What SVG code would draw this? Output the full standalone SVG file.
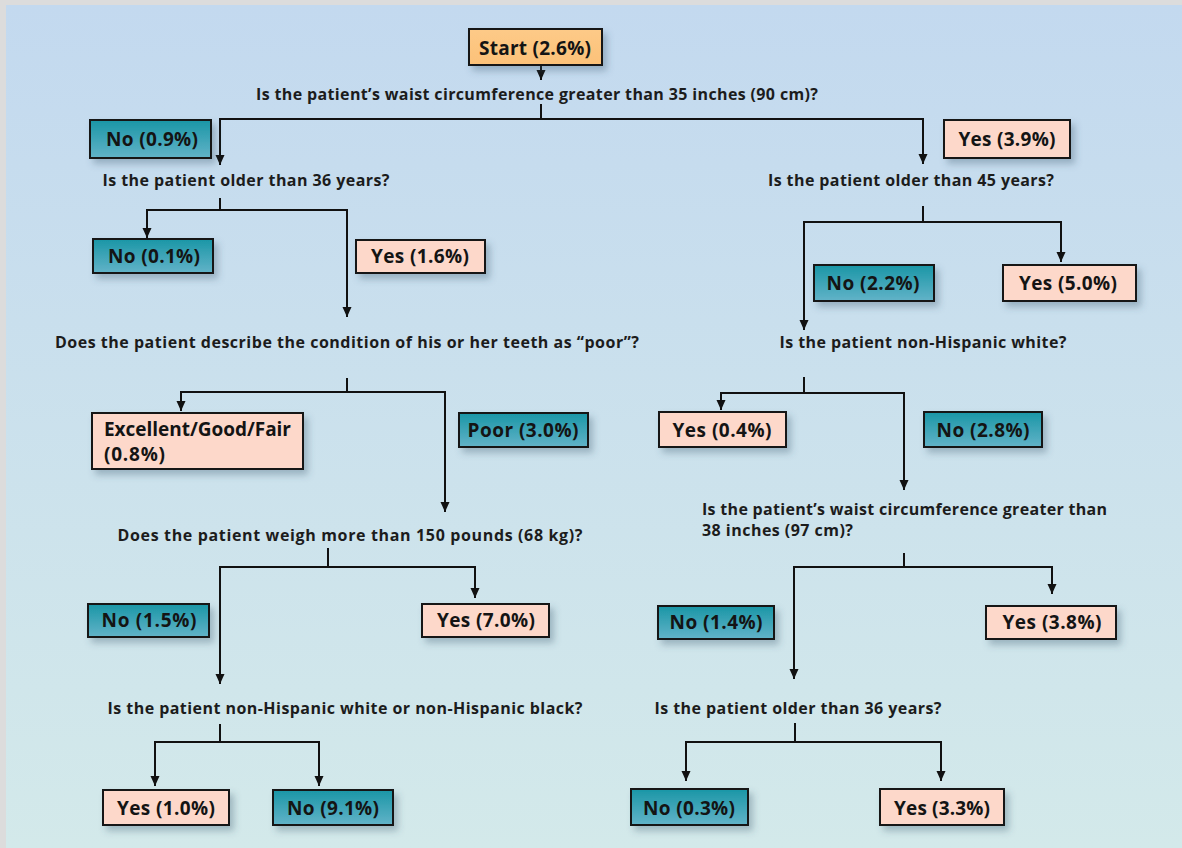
<svg xmlns="http://www.w3.org/2000/svg" width="1182" height="848" viewBox="0 0 1182 848">
<defs>
<linearGradient id="bg" x1="0" y1="0" x2="0" y2="1">
<stop offset="0" stop-color="#c3d9ef"/>
<stop offset="1" stop-color="#d3e9ea"/>
</linearGradient>
<linearGradient id="teal" x1="0" y1="0" x2="0" y2="1">
<stop offset="0" stop-color="#1a96a6"/>
<stop offset="1" stop-color="#62b3c8"/>
</linearGradient>
<linearGradient id="orange" x1="0" y1="0" x2="0" y2="1">
<stop offset="0" stop-color="#fdca88"/>
<stop offset="1" stop-color="#fcc178"/>
</linearGradient>
<filter id="sh" x="-20%" y="-30%" width="150%" height="180%">
<feDropShadow dx="4" dy="5" stdDeviation="3.5" flood-color="#3a5870" flood-opacity="0.35"/>
</filter>
<marker id="ah" markerUnits="userSpaceOnUse" markerWidth="10" markerHeight="10" refX="10" refY="5" orient="auto" viewBox="0 0 10 10">
<path d="M0,0.5 L10,5 L0,9.5 z" fill="#111"/>
</marker>
</defs>
<style>
.box{stroke:#161616;stroke-width:2;filter:url(#sh)}
.t{fill:url(#teal)}
.p{fill:#fdd8ca}
.o{fill:url(#orange)}
.lbl{font-family:"Open Sans","Liberation Sans",sans-serif;font-weight:700;font-size:19px;fill:#141414;text-anchor:middle}
.q{font-family:"Open Sans","Liberation Sans",sans-serif;font-weight:700;font-size:16px;fill:#1c1c1c;text-anchor:middle}
.l{text-anchor:start}
.c path{fill:none;stroke:#111;stroke-width:2}
.c path.a{marker-end:url(#ah)}
</style>
<rect x="0" y="0" width="1182" height="848" fill="#dcdcdc"/>
<rect x="6" y="5" width="1176" height="843" fill="url(#bg)"/>

<g class="c" id="connectors">
<path class="a" d="M541,65 V80"/>
<path class="a" d="M541,104 V119 H220 V165"/>
<path class="a" d="M541,119 H923 V164"/>
<path class="a" d="M220,198 V210 H147 V238"/>
<path class="a" d="M220,210 H347 V317"/>
<path class="a" d="M923,206 V222 H804 V330"/>
<path class="a" d="M923,222 H1061 V262"/>
<path class="a" d="M347,378 V392 H181 V411"/>
<path class="a" d="M347,392 H445 V512"/>
<path class="a" d="M804,377 V393 H721 V410"/>
<path class="a" d="M804,393 H904 V490"/>
<path class="a" d="M328,548 V567 H220 V684"/>
<path class="a" d="M328,567 H475 V598"/>
<path class="a" d="M220,724 V742 H155 V786"/>
<path class="a" d="M220,742 H319 V786"/>
<path class="a" d="M904,553 V567 H794 V679"/>
<path class="a" d="M904,567 H1052 V594"/>
<path class="a" d="M795,723 V742 H686 V781"/>
<path class="a" d="M795,742 H941 V781"/>
</g>

<g id="start"><rect class="box o" x="469" y="29" width="133" height="36"/><text class="lbl" x="535" y="55" textLength="112">Start (2.6%)</text></g>
<g id="q1"><text class="q" x="537" y="100" textLength="562">Is the patient’s waist circumference greater than 35 inches (90 cm)?</text></g>
<g id="no09"><rect class="box t" x="90" y="120" width="121" height="38"/><text class="lbl" x="152" y="146" textLength="92">No (0.9%)</text></g>
<g id="yes39"><rect class="box p" x="944" y="120" width="126" height="38"/><text class="lbl" x="1007" y="146" textLength="97">Yes (3.9%)</text></g>
<g id="q2l"><text class="q" x="246" y="186" textLength="287">Is the patient older than 36 years?</text></g>
<g id="q2r"><text class="q" x="911" y="186" textLength="286">Is the patient older than 45 years?</text></g>
<g id="no01"><rect class="box t" x="93" y="239" width="120" height="34"/><text class="lbl" x="154" y="263" textLength="92">No (0.1%)</text></g>
<g id="yes16"><rect class="box p" x="356" y="240" width="129" height="33"/><text class="lbl" x="420" y="263" textLength="98">Yes (1.6%)</text></g>
<g id="no22"><rect class="box t" x="814" y="265" width="120" height="36"/><text class="lbl" x="873" y="290" textLength="93">No (2.2%)</text></g>
<g id="yes50"><rect class="box p" x="1003" y="265" width="133" height="36"/><text class="lbl" x="1068" y="290" textLength="98">Yes (5.0%)</text></g>
<g id="q3l"><text class="q" x="347" y="348" textLength="584">Does the patient describe the condition of his or her teeth as “poor”?</text></g>
<g id="q3r"><text class="q" x="923" y="348" textLength="287">Is the patient non-Hispanic white?</text></g>
<g id="egf"><rect class="box p" x="92" y="413" width="211" height="56"/><text class="lbl l" x="104" y="436" textLength="187">Excellent/Good/Fair</text><text class="lbl l" x="104" y="461" textLength="61">(0.8%)</text></g>
<g id="poor"><rect class="box t" x="459" y="413" width="129" height="34"/><text class="lbl" x="523" y="437" textLength="111">Poor (3.0%)</text></g>
<g id="yes04"><rect class="box p" x="659" y="412" width="127" height="35"/><text class="lbl" x="722" y="437" textLength="99">Yes (0.4%)</text></g>
<g id="no28"><rect class="box t" x="924" y="412" width="118" height="35"/><text class="lbl" x="983" y="437" textLength="93">No (2.8%)</text></g>
<g id="q4"><text class="q" x="350" y="541" textLength="465">Does the patient weigh more than 150 pounds (68 kg)?</text></g>
<g id="q6"><text class="q l" x="702" y="515" textLength="405">Is the patient’s waist circumference greater than</text><text class="q l" x="702" y="536" textLength="151">38 inches (97 cm)?</text></g>
<g id="no15"><rect class="box t" x="88" y="604" width="121" height="33"/><text class="lbl" x="149" y="627" textLength="95">No (1.5%)</text></g>
<g id="yes70"><rect class="box p" x="422" y="604" width="127" height="33"/><text class="lbl" x="486" y="627" textLength="98">Yes (7.0%)</text></g>
<g id="no14"><rect class="box t" x="658" y="606" width="116" height="33"/><text class="lbl" x="716" y="629" textLength="93">No (1.4%)</text></g>
<g id="yes38"><rect class="box p" x="986" y="606" width="130" height="33"/><text class="lbl" x="1052" y="629" textLength="99">Yes (3.8%)</text></g>
<g id="q5"><text class="q" x="345" y="714" textLength="475">Is the patient non-Hispanic white or non-Hispanic black?</text></g>
<g id="q7"><text class="q" x="798" y="714" textLength="287">Is the patient older than 36 years?</text></g>
<g id="yes10"><rect class="box p" x="103" y="790" width="126" height="35"/><text class="lbl" x="166" y="815" textLength="98">Yes (1.0%)</text></g>
<g id="no91"><rect class="box t" x="273" y="790" width="120" height="35"/><text class="lbl" x="333" y="815" textLength="92">No (9.1%)</text></g>
<g id="no03"><rect class="box t" x="631" y="789" width="117" height="36"/><text class="lbl" x="689" y="815" textLength="92">No (0.3%)</text></g>
<g id="yes33"><rect class="box p" x="880" y="789" width="124" height="36"/><text class="lbl" x="942" y="815" textLength="96">Yes (3.3%)</text></g>
</svg>
